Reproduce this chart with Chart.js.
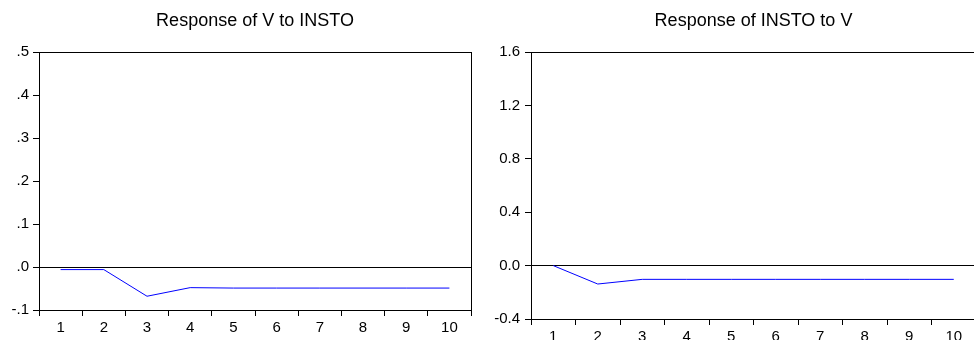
<!DOCTYPE html>
<html>
<head>
<meta charset="utf-8">
<title>Impulse responses</title>
<script src="https://cdn.jsdelivr.net/npm/chart.js@4.4.1/dist/chart.umd.min.js"></script>
<style>
	html, body { margin: 0; padding: 0; background: #fff; overflow: hidden; width: 974px; height: 340px; }
	#leftChart { position: absolute; left: 0; top: 0; }
	#rightChart { position: absolute; left: 490px; top: 0; }
</style>
</head>
<body>
<canvas id="leftChart" width="480" height="340"></canvas>
<canvas id="rightChart" width="500" height="370"></canvas>
<script>
var periods = ['1', '2', '3', '4', '5', '6', '7', '8', '9', '10'];
var vToInsto = [-0.006, -0.006, -0.068, -0.048, -0.049, -0.049, -0.049, -0.049, -0.049, -0.049];
var instoToV = [0.0, -0.138, -0.103, -0.103, -0.103, -0.103, -0.103, -0.103, -0.103, -0.103];
var leftTickLabels = ['-.1', '.0', '.1', '.2', '.3', '.4', '.5'];
var rightTickLabels = ['-0.4', '0.0', '0.4', '0.8', '1.2', '1.6'];

Chart.defaults.font.family = "'Liberation Sans', Arial, sans-serif";
Chart.defaults.font.size = 15;
Chart.defaults.color = '#000';

// box round the plot area
var framePlugin = {
	id: 'frame',
	afterDraw: function (chart) {
		var a = chart.chartArea;
		var ctx = chart.ctx;
		ctx.save();
		ctx.strokeStyle = '#000';
		ctx.lineWidth = 1;
		ctx.strokeRect(Math.round(a.left) + 0.5, Math.round(a.top) + 0.5,
			Math.round(a.right - a.left), Math.round(a.bottom - a.top));
		ctx.restore();
	}
};

function makeChart(id, title, data, yMin, yMax, yStep, tickLabels, yWidth, xHeight, pad, yPad) {
	return new Chart(document.getElementById(id), {
		type: 'line',
		data: {
			labels: periods,
			datasets: [{
				data: data,
				borderColor: '#0000ff',
				borderWidth: 1,
				pointRadius: 0,
				tension: 0,
				fill: false
			}]
		},
		options: {
			responsive: false,
			animation: false,
			devicePixelRatio: 1,
			layout: { padding: pad },
			plugins: {
				legend: { display: false },
				tooltip: { enabled: false },
				title: {
					display: true,
					text: title,
					fullSize: false,
					color: '#000',
					font: { size: 18, weight: 'normal' },
					padding: { top: 10, bottom: 20.4 }
				}
			},
			scales: {
				x: {
					offset: true,
					border: { display: true, color: '#000', width: 1 },
					grid: { offset: true, drawOnChartArea: false, drawTicks: true, tickLength: 6, tickColor: '#000' },
					ticks: { autoSkip: false, maxRotation: 0, padding: 3, color: '#000' },
					afterFit: function (scale) { scale.height = xHeight; }
				},
				y: {
					min: yMin,
					max: yMax,
					border: { display: true, color: '#000', width: 1 },
					grid: {
						drawOnChartArea: true,
						drawTicks: true,
						tickLength: 6,
						tickColor: '#000',
						color: function (c) {
							return (c.tick && Math.abs(c.tick.value) < 1e-9) ? '#000' : 'rgba(0,0,0,0)';
						}
					},
					ticks: {
						stepSize: yStep,
						padding: yPad,
						color: '#000',
						callback: function (v, i) { return tickLabels[i]; }
					},
					afterFit: function (scale) { scale.width = yWidth; }
				}
			}
		},
		plugins: [framePlugin]
	});
}

makeChart('leftChart', 'Response of V to INSTO', vToInsto, -0.1, 0.5, 0.1, leftTickLabels,
	39, 30, { left: 0, right: 9, top: 0, bottom: 0 }, 4);
makeChart('rightChart', 'Response of INSTO to V', instoToV, -0.4, 1.6, 0.4, rightTickLabels,
	41, 51, { left: 0, right: 14, top: 0, bottom: 0 }, 5);
</script>
</body>
</html>
